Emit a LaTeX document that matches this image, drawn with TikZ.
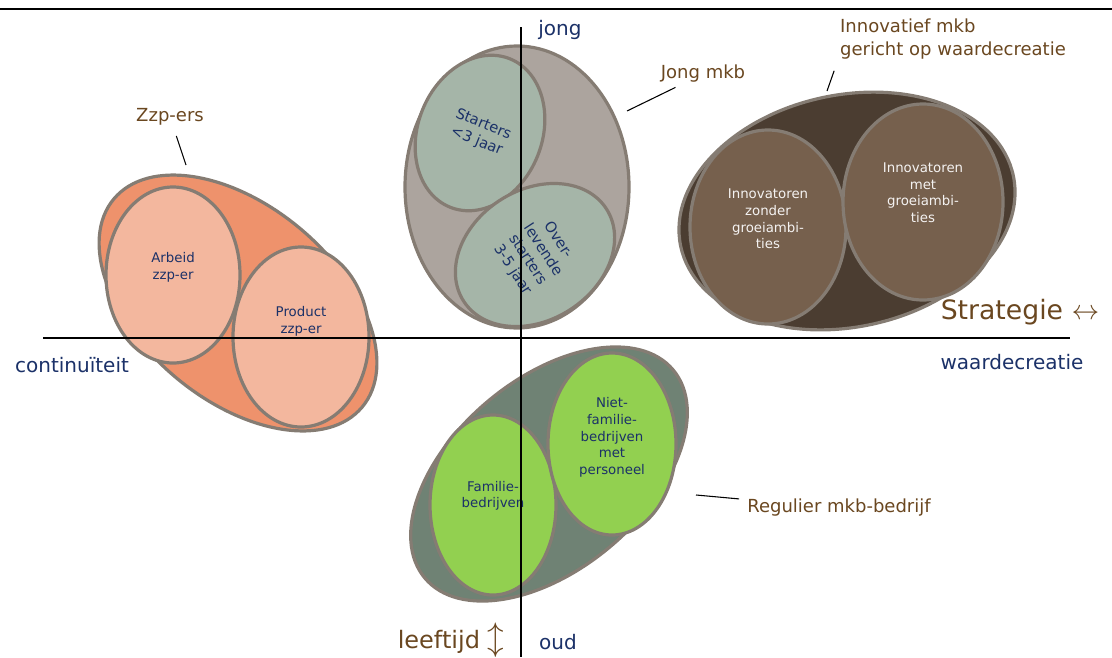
\documentclass[tikz,border=0pt]{standalone}
\usepackage{fontspec}
\setmainfont{DejaVu Sans}
\usetikzlibrary{positioning, shapes.geometric}

\definecolor{navy}{HTML}{1B3168}
\definecolor{lblbrown}{HTML}{6A4720}
\definecolor{rim}{HTML}{857C73}
\definecolor{zzpout}{HTML}{EE926C}
\definecolor{zzpin}{HTML}{F3B79E}
\definecolor{jongout}{HTML}{ACA49E}
\definecolor{jongin}{HTML}{A5B5A8}
\definecolor{innout}{HTML}{4B3D31}
\definecolor{innin}{HTML}{76604D}
\definecolor{regout}{HTML}{6F8274}
\definecolor{regin}{HTML}{92D050}

\begin{document}
\begin{tikzpicture}[
  x=0.75pt, y=-0.75pt,
  font={\fontsize{10}{12.5}\selectfont},
  blob/.style={ellipse, draw=rim, line width=2.4pt, inner sep=0pt, align=center, text=navy},
  intxt/.style={align=center, text=navy, inner sep=0pt},
  lbl/.style={text=lblbrown, font={\fontsize{13.5}{17}\selectfont}, inner sep=2pt},
  axtext/.style={text=navy, font={\fontsize{15}{18}\selectfont}, inner sep=1pt},
  lead/.style={draw=black, line width=0.8pt},
  ax/.style={draw=black, line width=0.8pt}
]
\useasboundingbox (0,0) rectangle (1112,657);

% top rule
\draw[line width=1pt] (0,9) -- (1112,9);

% --- Zzp-ers ---
\node[blob, fill=zzpout, minimum width=243pt, minimum height=145.5pt, rotate=-40] (zzp) at (238,303) {};
\node[blob, fill=zzpin, minimum width=100.5pt, minimum height=132pt,
  label={[intxt, yshift=6pt]center:Arbeid\\zzp-er}] (arbeid) at (173,275) {};
\node[blob, fill=zzpin, minimum width=102pt, minimum height=135pt,
  label={[intxt, yshift=12pt]center:Product\\zzp-er}] (product) at (301,337) {};

% --- Jong mkb ---
\node[blob, fill=jongout, minimum width=168pt, minimum height=211.5pt] (jong) at (517,187) {};
\node[blob, fill=jongin, font={\fontsize{11}{13.5}\selectfont}, minimum width=93pt, minimum height=120pt,
  rotate=-22] (starters) at (480,133) {Starters\\<3 jaar};
\node[blob, fill=jongin, font={\fontsize{11}{13.5}\selectfont}, minimum width=97.5pt, minimum height=127.5pt,
  rotate=-57] (overlev) at (535,255) {Over-\\levende\\starters\\3-5 jaar};

% --- Innovatief mkb ---
\node[blob, fill=innout, minimum width=255pt, minimum height=174pt, rotate=12] (innov) at (847,211) {};
\node[blob, fill=innin, minimum width=117pt, minimum height=145.5pt,
  label={[intxt, text=white!92!innin, yshift=6pt]center:Innovatoren\\zonder\\groeiambi-\\ties}] (zonder) at (768,227) {};
\node[blob, fill=innin, minimum width=120pt, minimum height=147pt,
  label={[intxt, text=white!92!innin, yshift=7pt]center:Innovatoren\\met\\groeiambi-\\ties}] (met) at (923,202) {};

% --- Regulier mkb-bedrijf ---
\node[blob, fill=regout, minimum width=243pt, minimum height=142.5pt, rotate=40] (regulier) at (549,474) {};
\node[blob, fill=regin, minimum width=94.5pt, minimum height=135pt,
  label={[intxt, yshift=7pt]center:Familie-\\bedrijven}] (familie) at (493,505) {};
\node[blob, fill=regin, minimum width=96pt, minimum height=136.5pt,
  label={[intxt, yshift=5pt]center:Niet-\\familie-\\bedrijven\\met\\personeel}] (nietfam) at (612,444) {};

% axes
\draw[ax] (43,338) -- (1070,338);
\draw[ax] (521,27) -- (521,657);

% group labels with leader lines
\node[lbl] (zzplbl) at (170,117) {Zzp-ers};
\coordinate (zzptip) at (186,165);
\draw[lead, shorten <=6pt] (zzplbl) -- (zzptip);

\node[lbl] (jonglbl) at (703,74) {Jong mkb};
\coordinate (jongtip) at (627,111);
\draw[lead, shorten <=3pt] (jonglbl) -- (jongtip);

\node[lbl, align=left] (innolbl) at (953,39) {Innovatief mkb\\gericht op waardecreatie};
\coordinate (innotip) at (827,91);
\draw[lead, shorten <=7pt] (innolbl.south west) -- (innotip);

\node[lbl] (reglbl) at (839,508) {Regulier mkb-bedrijf};
\coordinate (regtip) at (696,495);
\draw[lead, shorten <=4pt] (reglbl) -- (regtip);

% axis texts
\node[axtext] (jongtxt) at (560,30) {jong};
\node[axtext] (oudtxt) at (558,642) {oud};
\node[axtext] (conttxt) at (72,365) {continuïteit};
\node[axtext] (waardtxt) at (1012,362) {waardecreatie};
\node[text=lblbrown, font={\fontsize{18}{20}\selectfont}] (leeftxt) at (451,640)
  {leeftijd {\fontsize{25}{25}\selectfont$\updownarrow$}};
\node[text=lblbrown, font={\fontsize{20}{22}\selectfont}] (strattxt) at (1020,312) {Strategie $\leftrightarrow$};

\end{tikzpicture}
\end{document}
